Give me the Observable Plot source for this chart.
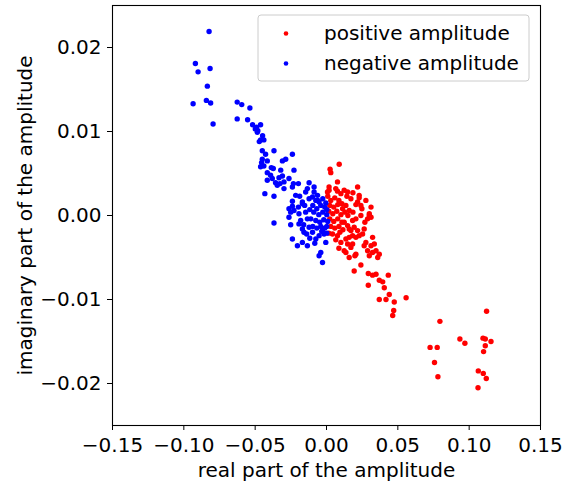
<!DOCTYPE html>
<html>
<head>
<meta charset="utf-8">
<script src="https://cdn.jsdelivr.net/npm/d3@7"></script>
<script src="https://cdn.jsdelivr.net/npm/@observablehq/plot@0.6"></script>
<style>
  html, body { margin: 0; padding: 0; background: white; }
</style>
</head>
<body>
<div id="chart"></div>
<script>
const xTicks = [-0.15, -0.10, -0.05, 0, 0.05, 0.10, 0.15];
const xTickLabels = ["−0.15", "−0.10", "−0.05", "0.00", "0.05", "0.10", "0.15"];
const yTicks = [-0.02, -0.01, 0, 0.01, 0.02];
const yTickLabels = ["−0.02", "−0.01", "0.00", "0.01", "0.02"];
const xLabel = "real part of the amplitude";
const yLabel = "imaginary part of the amplitude";
const seriesNames = ["positive amplitude", "negative amplitude"];
const seriesColors = ["#ff0000", "#0000ff"];

const posReal = [
0.0089,0.0025,0.0030,0.0077,0.0018,0.0018,0.0065,0.0077,0.0124,0.0148,
0.0218,0.0171,0.0229,0.0276,0.0206,0.0218,0.0136,0.0159,0.0113,0.0241,
0.0300,0.0288,0.0183,0.0124,0.0148,0.0159,0.0194,0.0218,0.0264,0.0253,
0.0229,0.0206,0.0183,0.0077,0.0042,0.0323,0.0335,0.0148,0.0183,0.0171,
0.0276,0.0264,0.0136,0.0206,0.0347,0.0370,0.0136,0.0159,0.0124,0.0159,
0.0199,0.0312,0.0288,0.0300,0.0323,0.0359,0.0194,0.0241,0.0293,0.0323,
0.0347,0.0370,0.0394,0.0405,0.0433,0.0293,0.0440,0.0370,0.0417,0.0475,
0.0558,0.0471,0.0464,
0.0795,0.0726,0.0776,0.0757,0.0781,0.0935,0.0970,0.1122,0.1097,0.1113,0.1153,0.1113,0.1101,0.1064,0.1099,0.1120,0.1062,
0.0007,0.0101,0.0229,0.0241,0.0312,0.0300,0.0312,
0.0009,0.0030,0.0058,0.0087,0.0023,0.0051,0.0079,0.0108,0.0016,0.0044,
0.0072,0.0101,0.0129,0.0023,0.0051,0.0079,0.0108,0.0030,0.0058,0.0087,
0.0115,0.0094,0.0065,0.0101,0.0150,0.0185,0.0206,0.0171,0.0016,0.0143,
0.0185,0.0248,0.0269,0.0087
];
const posImag = [
0.0061,0.0055,0.0051,0.0040,0.0034,0.0030,0.0032,0.0029,0.0030,0.0028,
0.0034,0.0020,0.0021,0.0018,0.0013,0.0016,0.0012,0.0006,0.0008,0.0000,
0.0000,-0.0004,-0.0006,-0.0008,-0.0012,-0.0016,-0.0014,-0.0018,-0.0016,-0.0022,
-0.0024,-0.0026,-0.0024,-0.0024,-0.0022,-0.0026,-0.0034,-0.0034,-0.0034,-0.0038,
-0.0032,-0.0036,-0.0044,-0.0046,-0.0042,-0.0046,-0.0028,-0.0026,-0.0042,-0.0050,
-0.0048,-0.0036,-0.0042,-0.0048,-0.0044,-0.0050,-0.0066,-0.0059,-0.0069,-0.0071,
-0.0070,-0.0077,-0.0079,-0.0086,-0.0071,-0.0083,-0.0094,-0.0100,-0.0100,-0.0103,
-0.0098,-0.0113,-0.0119,
-0.0126,-0.0157,-0.0157,-0.0175,-0.0192,-0.0147,-0.0152,-0.0114,-0.0146,-0.0147,-0.0150,-0.0155,-0.0162,-0.0185,-0.0188,-0.0194,-0.0205,
0.0028,0.0026,0.0024,0.0012,0.0010,0.0002,-0.0002,
0.0023,0.0018,0.0021,0.0018,0.0012,0.0010,0.0013,0.0014,0.0005,0.0002,
0.0005,0.0001,0.0004,-0.0004,-0.0007,-0.0004,-0.0008,-0.0013,-0.0015,-0.0013,
-0.0017,-0.0020,-0.0029,-0.0032,0.0000,0.0004,-0.0004,-0.0018,-0.0021,0.0023,
0.0027,0.0008,-0.0008,-0.0039
];

const negReal = [
-0.0823,-0.0919,-0.0900,-0.0816,-0.0835,-0.0935,-0.0842,-0.0812,-0.0795,-0.0626,
-0.0594,-0.0537,-0.0626,-0.0553,-0.0518,-0.0490,-0.0462,-0.0481,-0.0499,-0.0448,
-0.0462,-0.0439,-0.0471,-0.0450,-0.0368,-0.0427,-0.0450,-0.0415,-0.0455,-0.0286,
-0.0309,-0.0239,-0.0462,-0.0439,-0.0387,-0.0373,-0.0321,-0.0228,-0.0415,-0.0392,
-0.0309,-0.0333,-0.0415,-0.0380,-0.0357,-0.0326,-0.0298,-0.0263,-0.0232,-0.0197,
-0.0239,-0.0345,-0.0298,-0.0122,-0.0134,-0.0146,-0.0087,-0.0432,-0.0368,-0.0216,
-0.0239,-0.0169,-0.0122,-0.0188,-0.0087,-0.0263,-0.0251,-0.0263,-0.0228,-0.0239,
-0.0197,-0.0169,-0.0098,-0.0075,-0.0063,-0.0052,-0.0193,-0.0181,-0.0193,-0.0169,
-0.0158,-0.0139,-0.0098,-0.0122,-0.0134,-0.0239,-0.0204,-0.0169,-0.0134,-0.0075,
-0.0052,-0.0017,-0.0005,-0.0040,-0.0028,-0.0052,-0.0368,-0.0251,-0.0485,
-0.0096,-0.0068,-0.0040,-0.0012,-0.0089,-0.0054,-0.0026,0.0002,-0.0110,-0.0075,
-0.0047,-0.0019,0.0009,-0.0096,-0.0068,-0.0040,-0.0012,-0.0033,0.0002,-0.0061,
-0.0026,-0.0005,-0.0117,-0.0153,-0.0146,-0.0160,-0.0117,-0.0082,0.0002,0.0002,-0.0028
];
const negImag = [
0.0219,0.0181,0.0171,0.0175,0.0154,0.0133,0.0137,0.0134,0.0109,0.0135,
0.0132,0.0128,0.0115,0.0114,0.0108,0.0105,0.0108,0.0101,0.0103,0.0095,
0.0090,0.0090,0.0088,0.0077,0.0077,0.0073,0.0067,0.0065,0.0063,0.0067,
0.0065,0.0073,0.0058,0.0059,0.0057,0.0056,0.0054,0.0054,0.0051,0.0048,
0.0047,0.0045,0.0042,0.0044,0.0039,0.0038,0.0040,0.0044,0.0038,0.0038,
0.0034,0.0036,0.0032,0.0039,0.0032,0.0028,0.0028,0.0026,0.0023,0.0024,
0.0017,0.0016,0.0020,0.0023,0.0034,0.0008,0.0004,-0.0002,0.0006,0.0011,
0.0010,0.0014,0.0022,0.0018,0.0024,0.0016,0.0002,-0.0006,-0.0010,-0.0016,
-0.0020,-0.0022,-0.0020,-0.0014,-0.0004,-0.0028,-0.0036,-0.0032,-0.0036,-0.0028,
-0.0024,-0.0022,-0.0032,-0.0044,-0.0056,-0.0048,-0.0009,-0.0011,0.0099,
0.0012,0.0008,0.0012,0.0010,0.0004,0.0001,0.0004,0.0001,-0.0004,-0.0006,
-0.0008,-0.0005,-0.0007,-0.0013,-0.0015,-0.0013,-0.0015,-0.0019,-0.0013,0.0018,
0.0020,0.0015,0.0007,0.0012,0.0004,-0.0011,-0.0027,-0.0033,-0.0021,0.0007,-0.0018
];

const pos = posReal.map((re, i) => ({re, im: posImag[i]}));
const neg = negReal.map((re, i) => ({re, im: negImag[i]}));

const fmt = (ticks, labels) => d => labels[ticks.findIndex(t => Math.abs(t - d) < 1e-9)];

function legend(index, scales, values, dimensions) {
  const right = dimensions.width - dimensions.marginRight;
  const top = dimensions.marginTop;
  const w = 271, h = 66;
  const bx = right - 11 - w, by = top + 10;
  const g = d3.create("svg:g");
  g.append("rect")
    .attr("x", bx).attr("y", by).attr("width", w).attr("height", h)
    .attr("rx", 3).attr("fill", "white").attr("fill-opacity", 0.8)
    .attr("stroke", "#cccccc").attr("stroke-width", 1);
  seriesNames.forEach((name, i) => {
    const cy = by + 18.5 + i * 30;
    g.append("circle").attr("cx", bx + 28).attr("cy", cy).attr("r", 2.3)
      .attr("fill", seriesColors[i]);
    g.append("text").attr("x", bx + 66).attr("y", cy).attr("dy", "0.3em")
      .attr("text-anchor", "start")
      .attr("fill", "black").attr("font-size", 20).text(name);
  });
  return g.node();
}

const chart = Plot.plot({
  width: 563,
  height: 481,
  marginLeft: 112,
  marginRight: 23,
  marginTop: 5,
  marginBottom: 56,
  x: {domain: [-0.15, 0.15]},
  y: {domain: [-0.025, 0.025]},
  style: {fontFamily: "DejaVu Sans", fontSize: "20px", background: "white", color: "black"},
  marks: [
    Plot.axisX({ticks: xTicks, tickFormat: fmt(xTicks, xTickLabels), tickSize: 5, tickPadding: 7, label: null, fontSize: 20}),
    Plot.axisY({ticks: yTicks, tickFormat: fmt(yTicks, yTickLabels), tickSize: 5, tickPadding: 6, label: null, fontSize: 20}),
    Plot.dot(pos, {x: "re", y: "im", r: 2.7, fill: seriesColors[0]}),
    Plot.dot(neg, {x: "re", y: "im", r: 2.7, fill: seriesColors[1]}),
    Plot.frame({stroke: "black", strokeWidth: 1.1}),
    Plot.text([xLabel], {text: d => d, frameAnchor: "bottom", dy: 51, textAnchor: "middle", fontSize: 20}),
    Plot.text([yLabel], {text: d => d, frameAnchor: "left", dx: -87, rotate: -90, textAnchor: "middle", fontSize: 20}),
    legend
  ]
});
document.getElementById("chart").appendChild(chart);
</script>
</body>
</html>
